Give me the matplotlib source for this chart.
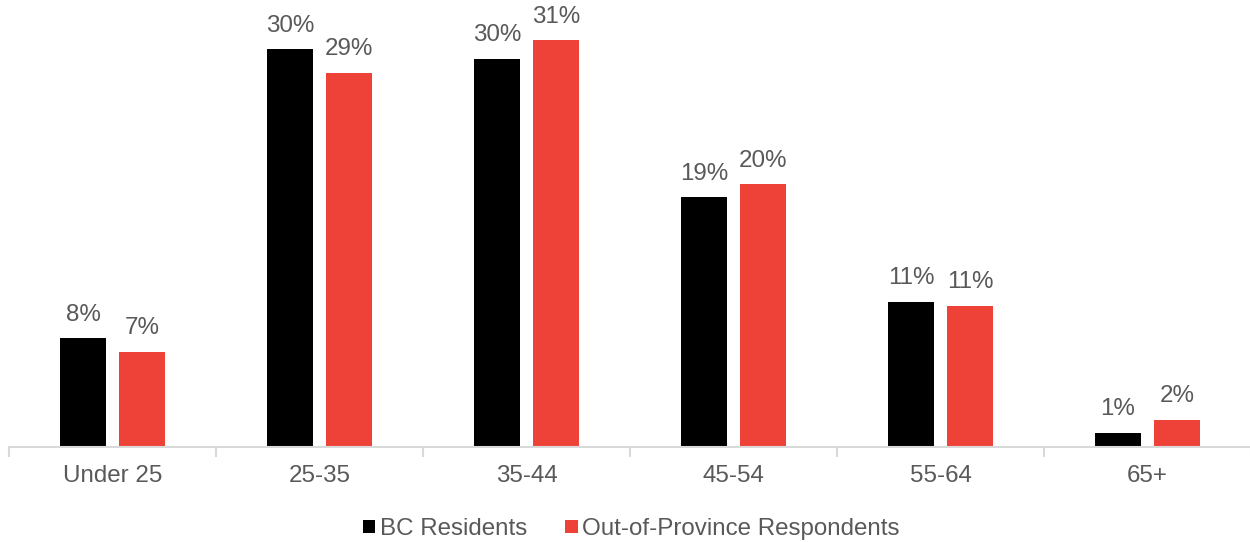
import numpy as np
import matplotlib.pyplot as plt
from matplotlib.patches import Patch

plt.rcParams['font.family'] = ['Liberation Sans', 'DejaVu Sans']

# === data ===
age_groups = ["Under 25", "25-35", "35-44", "45-54", "55-64", "65+"]
bc_residents = [8.3, 30.4, 29.7, 19.1, 11.1, 1.1]
out_of_province = [7.3, 28.6, 31.1, 20.1, 10.8, 2.1]
series_names = ["BC Residents", "Out-of-Province Respondents"]
colors = ["#000000", "#EE4238"]
text_color = "#595959"
axis_color = "#D9D9D9"
fs = 17.4

fig = plt.figure(figsize=(12.5, 5.42), dpi=100)
ax = fig.add_axes([0.0072, 0.1753, 0.9936, 0.8155])

x = np.arange(len(age_groups))
bar_w = 0.222
offset = 0.1425

for vals, col, sign in [(bc_residents, colors[0], -1), (out_of_province, colors[1], 1)]:
    bars = ax.bar(x + sign * offset, vals, width=bar_w, color=col, zorder=2)
    for b, v in zip(bars, vals):
        ax.annotate(f"{round(v)}%", (b.get_x() + b.get_width() / 2, v),
                    xytext=(0, 9), textcoords="offset points",
                    ha="center", va="bottom", fontsize=fs, color=text_color)

ax.set_xlim(-0.5, len(age_groups) - 0.5)
ax.set_ylim(0, 33.8)

# axis styling
for s in ["top", "right", "left"]:
    ax.spines[s].set_visible(False)
ax.spines["bottom"].set_color(axis_color)
ax.spines["bottom"].set_linewidth(1.5)
ax.set_yticks([])

ax.set_xticks(x)
ax.set_xticklabels(age_groups, fontsize=fs, color=text_color)
ax.tick_params(axis="x", which="major", length=0, pad=13)
ax.set_xticks(np.arange(-0.5, len(age_groups) + 0.5, 1), minor=True)
ax.tick_params(axis="x", which="minor", length=7, width=1.5, color=axis_color)

handles = [Patch(facecolor=c, label=n) for c, n in zip(colors, series_names)]
fig.legend(handles=handles, loc="center", bbox_to_anchor=(0.505, 0.024), ncol=2,
           frameon=False, fontsize=fs, labelcolor=text_color,
           handlelength=0.5, handleheight=0.5, handletextpad=0.2, columnspacing=1.6)

fig.savefig("out.png", dpi=100)
